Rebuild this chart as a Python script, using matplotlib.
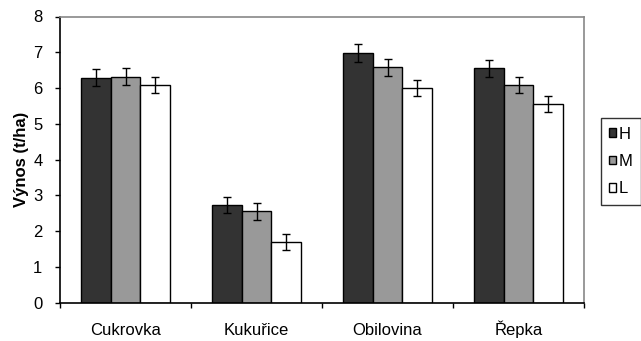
import matplotlib
matplotlib.use("Agg")
import matplotlib.pyplot as plt
import numpy as np

categories = ["Cukrovka", "Kukuřice", "Obilovina", "Řepka"]
series = ["H", "M", "L"]
values_H = [6.29, 2.73, 6.98, 6.55]
values_M = [6.32, 2.55, 6.58, 6.09]
values_L = [6.09, 1.70, 6.00, 5.55]
err_H = [0.23, 0.23, 0.24, 0.23]
err_M = [0.23, 0.23, 0.23, 0.23]
err_L = [0.23, 0.23, 0.23, 0.23]
colors = ["#333333", "#999999", "#ffffff"]

plt.rcParams['font.family'] = ['Liberation Sans', 'DejaVu Sans']

W, H = 641, 341
fig = plt.figure(figsize=(W / 100, H / 100), dpi=100)
ax = fig.add_axes([60 / W, 1 - 302.7 / H, (584 - 60) / W, (302.7 - 16.5) / H])

x = np.arange(len(categories))
bw = 0.224
vals = [values_H, values_M, values_L]
errs = [err_H, err_M, err_L]
handles = []
for i, (v, e, c, s) in enumerate(zip(vals, errs, colors, series)):
    b = ax.bar(x + (i - 1) * bw, v, bw, color=c, edgecolor="black", linewidth=1.0,
               label=s, zorder=2)
    ax.errorbar(x + (i - 1) * bw, v, yerr=e, fmt="none", ecolor="black",
                elinewidth=1.0, capsize=3, capthick=1.0, zorder=3)
    handles.append(b)

ax.set_xlim(-0.5, len(categories) - 0.5)
ax.set_ylim(0, 8)
ax.set_yticks(range(0, 9))
ax.set_xticks(x)
ax.set_xticklabels(categories, fontsize=12, va="baseline")
ax.set_xticks(np.arange(-0.5, len(categories)), minor=True)
ax.tick_params(axis="x", which="major", length=0, pad=23.5)
ax.tick_params(axis="x", which="minor", length=3.6, width=1, direction="out")
ax.tick_params(axis="y", length=3.6, width=1, direction="out", labelsize=12, pad=9)
ax.set_ylabel("Výnos (t/ha)", fontsize=12, fontweight="bold", labelpad=3)

for side in ["top", "right"]:
    ax.spines[side].set_color("#888888")
    ax.spines[side].set_linewidth(1.2)
for side in ["left", "bottom"]:
    ax.spines[side].set_color("black")
    ax.spines[side].set_linewidth(1.2)

leg = fig.legend(handles=handles, labels=series, loc="upper left",
                 bbox_to_anchor=(601 / W, 1 - 118.3 / H), fontsize=12,
                 frameon=True, fancybox=False, handlelength=0.4, handleheight=0.4,
                 handletextpad=0.15, labelspacing=0.74, borderpad=0.5,
                 borderaxespad=0)
leg.get_frame().set_edgecolor("black")
leg.get_frame().set_linewidth(1.0)

fig.savefig("out.png", dpi=100)
